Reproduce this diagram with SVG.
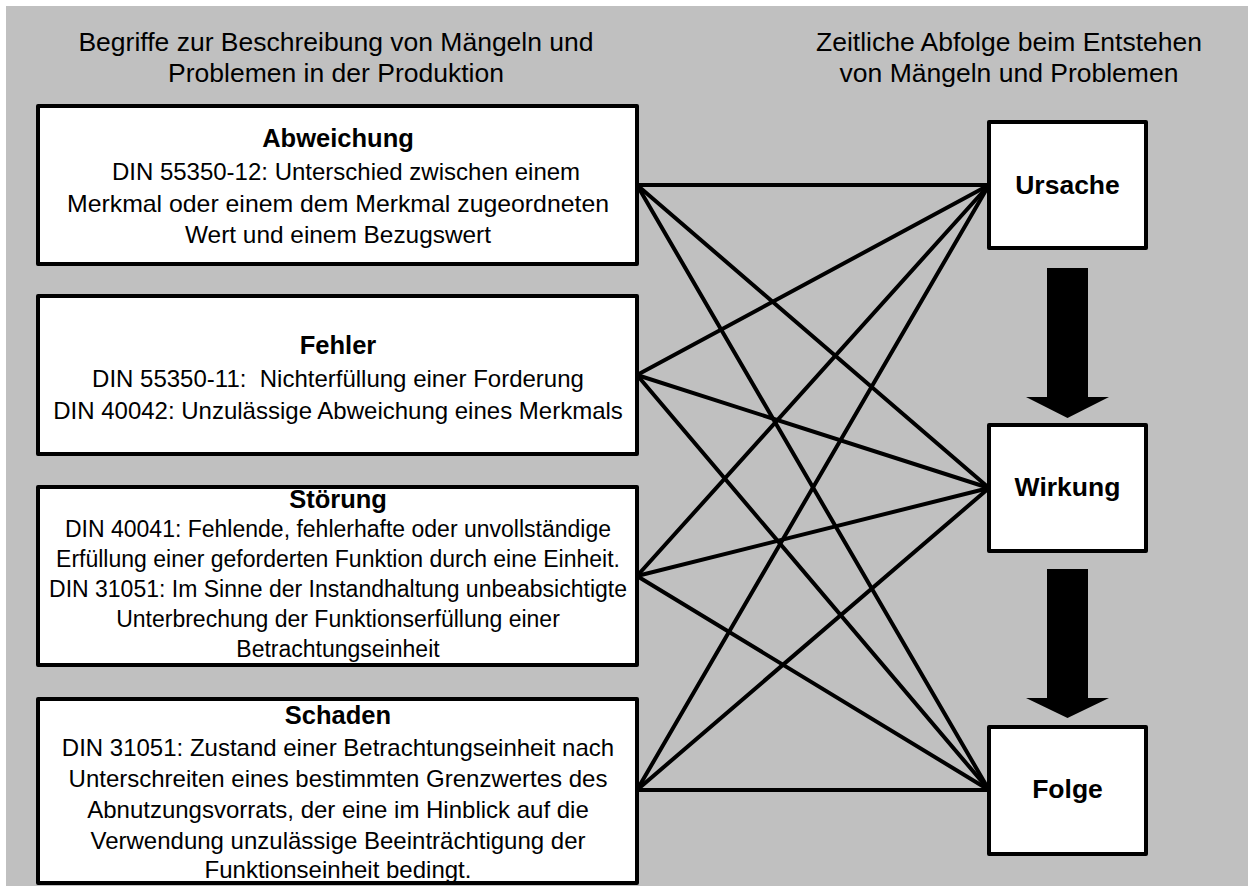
<svg xmlns="http://www.w3.org/2000/svg" width="1253" height="890" viewBox="0 0 1253 890">
<style>
.box{fill:#fff;stroke:#000;stroke-width:4;stroke-linejoin:round}
.t{font-family:"Liberation Sans",Arial,sans-serif;fill:#000;text-anchor:middle}
.hdr{font-size:26.5px}
.ti{font-size:25.5px;font-weight:bold}
.lb{font-size:26.5px;font-weight:bold}
.tx{font-size:24px}
.ts{font-size:23px}
.con line{stroke:#000;stroke-width:4;stroke-linecap:round}
</style>
<rect x="0" y="0" width="1253" height="890" fill="#fff"/>
<rect x="6" y="6" width="1242" height="880" fill="#c0c0c0"/>
<g id="headers">
<text class="t hdr" x="336" y="51">Begriffe zur Beschreibung von Mängeln und</text>
<text class="t hdr" x="336" y="82">Problemen in der Produktion</text>
<text class="t hdr" x="1009" y="51">Zeitliche Abfolge beim Entstehen</text>
<text class="t hdr" x="1009" y="82">von Mängeln und Problemen</text>
</g>
<g id="connectors" class="con">
<line x1="637" y1="185" x2="989" y2="185"/>
<line x1="637" y1="185" x2="989" y2="488"/>
<line x1="637" y1="185" x2="989" y2="790"/>
<line x1="637" y1="375" x2="989" y2="185"/>
<line x1="637" y1="375" x2="989" y2="488"/>
<line x1="637" y1="375" x2="989" y2="790"/>
<line x1="637" y1="576" x2="989" y2="185"/>
<line x1="637" y1="576" x2="989" y2="488"/>
<line x1="637" y1="576" x2="989" y2="790"/>
<line x1="637" y1="790" x2="989" y2="185"/>
<line x1="637" y1="790" x2="989" y2="488"/>
<line x1="637" y1="790" x2="989" y2="790"/>
<polygon points="1047,268 1088,268 1088,397 1109,397 1067.5,418 1026,397 1047,397" fill="#000"/>
<polygon points="1047,569 1088,569 1088,698 1109,698 1067.5,718 1026,698 1047,698" fill="#000"/>
</g>
<g id="abweichung">
<rect class="box" x="38" y="106" width="599" height="158"/>
<text class="t ti" x="338" y="147">Abweichung</text>
<text class="t tx" x="346" y="180">DIN 55350-12: Unterschied zwischen einem</text>
<text class="t tx" x="338" y="212" textLength="542" lengthAdjust="spacingAndGlyphs">Merkmal oder einem dem Merkmal zugeordneten</text>
<text class="t tx" x="338" y="243" textLength="306" lengthAdjust="spacingAndGlyphs">Wert und einem Bezugswert</text>
</g>
<g id="fehler">
<rect class="box" x="38" y="296" width="599" height="158"/>
<text class="t ti" x="338" y="354">Fehler</text>
<text class="t tx" x="338" y="387" style="white-space:pre">DIN 55350-11:  Nichterfüllung einer Forderung</text>
<text class="t tx" x="338" y="419">DIN 40042: Unzulässige Abweichung eines Merkmals</text>
</g>
<g id="stoerung">
<rect class="box" x="38" y="487" width="599" height="178"/>
<text class="t ti" x="338" y="508">Störung</text>
<text class="t ts" x="338" y="537">DIN 40041: Fehlende, fehlerhafte oder unvollständige</text>
<text class="t ts" x="338" y="567">Erfüllung einer geforderten Funktion durch eine Einheit.</text>
<text class="t ts" x="338" y="597">DIN 31051: Im Sinne der Instandhaltung unbeabsichtigte</text>
<text class="t ts" x="338" y="627">Unterbrechung der Funktionserfüllung einer</text>
<text class="t ts" x="338" y="657">Betrachtungseinheit</text>
</g>
<g id="schaden">
<rect class="box" x="38" y="699" width="599" height="184"/>
<text class="t ti" x="338" y="724">Schaden</text>
<text class="t tx" x="338" y="756">DIN 31051: Zustand einer Betrachtungseinheit nach</text>
<text class="t tx" x="338" y="787">Unterschreiten eines bestimmten Grenzwertes des</text>
<text class="t tx" x="338" y="818">Abnutzungsvorrats, der eine im Hinblick auf die</text>
<text class="t tx" x="338" y="849">Verwendung unzulässige Beeinträchtigung der</text>
<text class="t tx" x="338" y="878">Funktionseinheit bedingt.</text>
</g>
<g id="ursache">
<rect class="box" x="989" y="122" width="157" height="126"/>
<text class="t lb" x="1067.5" y="194">Ursache</text>
</g>
<g id="wirkung">
<rect class="box" x="989" y="425" width="157" height="126"/>
<text class="t lb" x="1067.5" y="496">Wirkung</text>
</g>
<g id="folge">
<rect class="box" x="989" y="727" width="157" height="127"/>
<text class="t lb" x="1067.5" y="798">Folge</text>
</g>
</svg>
